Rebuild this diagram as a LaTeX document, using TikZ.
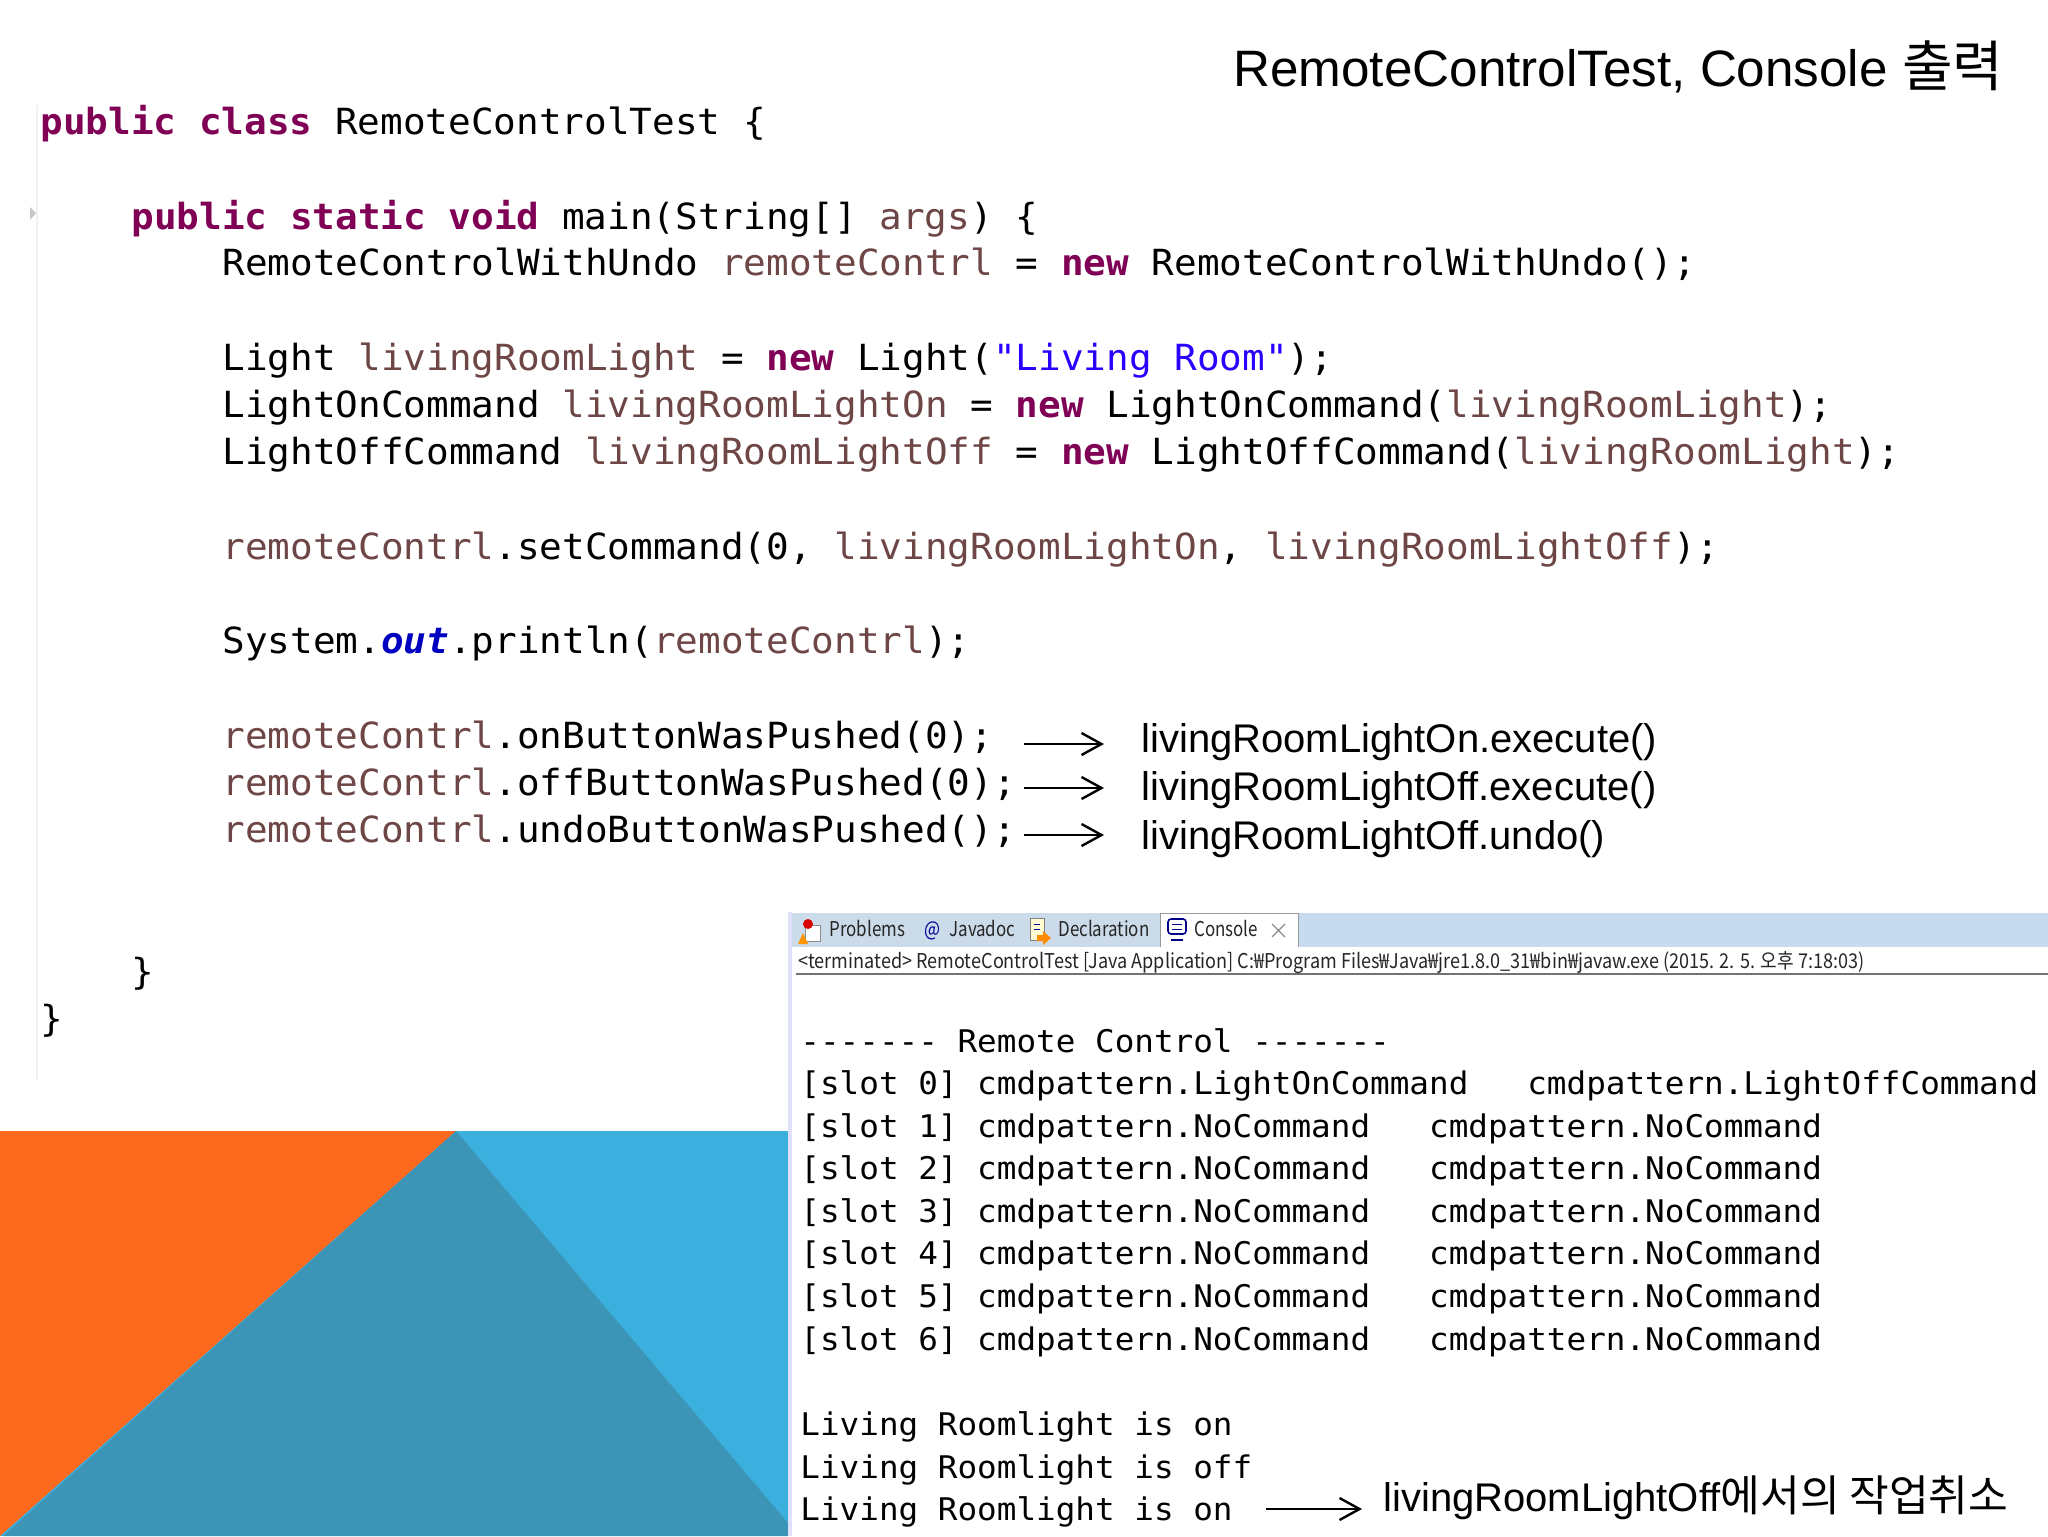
\documentclass[tikz,border=0pt]{standalone}
\usepackage{fontspec}
\setmainfont{Liberation Sans}
\setmonofont[FakeStretch=1.046]{DejaVu Sans Mono}
\newfontfamily\krfont{Noto Sans CJK KR}
\newfontfamily\tabfont{Noto Sans CJK KR}[FakeStretch=0.83]
\newfontfamily\infofont{Noto Sans CJK KR}[FakeStretch=0.885]
\usetikzlibrary{arrows.meta}
\definecolor{kwcol}{HTML}{7F0055}
\definecolor{varcol}{HTML}{6E4646}
\definecolor{strcol}{HTML}{2A00FF}
\definecolor{outcol}{HTML}{0000C0}
\definecolor{orangebg}{HTML}{FD6A1D}
\definecolor{bluebg}{HTML}{3BB0DE}
\definecolor{tealbg}{HTML}{3C94B6}
\definecolor{tabbar}{HTML}{C7DBEF}
\definecolor{tabidle}{HTML}{CBDBE9}
\newcommand{\kw}[1]{\textcolor{kwcol}{\bfseries #1}}
\newcommand{\vr}[1]{\textcolor{varcol}{#1}}
\tikzset{
  x=0.5pt,y=-0.5pt,
  code/.style={anchor=base west,inner sep=0pt,font=\ttfamily\fontsize{18}{18}\selectfont},
  cons/.style={anchor=base west,inner sep=0pt,font=\ttfamily\fontsize{15.6}{15.6}\selectfont},
  label/.style={anchor=base west,inner sep=0pt,font=\fontsize{20}{20}\selectfont},
  tabtext/.style={anchor=base west,inner sep=0pt,text=black!85,font=\tabfont\fontsize{10.2}{10.2}\selectfont},
  infotext/.style={anchor=base west,inner sep=0pt,text=black!85,font=\infofont\fontsize{10.2}{10.2}\selectfont},
  conn/.style={draw=black,line width=1.2pt,-{Straight Barb[length=10pt,width=11pt,line width=1.2pt]}},
}
\begin{document}
\begin{tikzpicture}
\path[use as bounding box,fill=white] (0,0) rectangle (2048,1536);
% gutter
\draw[black!5,line width=0.6pt] (37,105) -- (37,1080);
\fill[black!22] (30,207) -- (36,213) -- (30,220) -- cycle;
% background triangles
\fill[bluebg] (0,1131) rectangle (788,1536);
\fill[orangebg] (0,1131) -- (456,1131) -- (0,1536) -- cycle;
\fill[tealbg] (456,1131) -- (788,1523) -- (788,1536) -- (3,1536) -- cycle;
% title
\node[anchor=base west,inner sep=0pt,font=\fontsize{25.6}{25.6}\selectfont] (title) at (1233,87) {RemoteControlTest, Console {\krfont\fontsize{27.5}{27.5}\selectfont 출력}};
% code
\node[code] (c1) at (40,134) {\kw{public class} RemoteControlTest \{};
\node[code] (c2) at (131,229) {\kw{public static void} main(String[] \vr{args}) \{};
\node[code] (c3) at (222,275) {RemoteControlWithUndo \vr{remoteContrl} = \kw{new} RemoteControlWithUndo();};
\node[code] (c4) at (222,370) {Light \vr{livingRoomLight} = \kw{new} Light(\textcolor{strcol}{"Living Room"});};
\node[code] (c5) at (222,417) {LightOnCommand \vr{livingRoomLightOn} = \kw{new} LightOnCommand(\vr{livingRoomLight});};
\node[code] (c6) at (222,464) {LightOffCommand \vr{livingRoomLightOff} = \kw{new} LightOffCommand(\vr{livingRoomLight});};
\node[code] (c7) at (222,559) {\vr{remoteContrl}.setCommand(0, \vr{livingRoomLightOn}, \vr{livingRoomLightOff});};
\node[code] (c8) at (222,653) {System.\textcolor{outcol}{\bfseries\itshape out}.println(\vr{remoteContrl});};
\node[code] (c9) at (222,748) {\vr{remoteContrl}.onButtonWasPushed(0);};
\node[code] (c10) at (222,795) {\vr{remoteContrl}.offButtonWasPushed(0);};
\node[code] (c11) at (222,842) {\vr{remoteContrl}.undoButtonWasPushed();};
\node[code] (c12) at (131,984) {\}};
\node[code] (c13) at (40,1031) {\}};
% arrow labels
\node[label] (l1) at (1141,752) {livingRoomLightOn.execute()};
\node[label] (l2) at (1141,800) {livingRoomLightOff.execute()};
\node[label] (l3) at (1141,849) {livingRoomLightOff.undo()};
\coordinate (a1s) at (1024,744); \coordinate (a1e) at (1104,744);
\coordinate (a2s) at (1024,788); \coordinate (a2e) at (1104,788);
\coordinate (a3s) at (1024,835); \coordinate (a3e) at (1104,835);
\draw[conn] (a1s) -- (a1e);
\draw[conn] (a2s) -- (a2e);
\draw[conn] (a3s) -- (a3e);
% console panel
\fill[white] (788,912) rectangle (2048,1536);
\fill[black!15!blue!12] (788,912) rectangle (792,1536);
\fill[tabbar] (792,913) rectangle (2048,947);
\fill[tabidle] (792,913) rectangle (1160,947);
\fill[white] (1160,911) rectangle (1298,947);
\draw[black!40,line width=0.5pt] (1160,947) -- (1160,913) -- (1298,913) -- (1298,947);
\draw[black!55,line width=0.7pt] (796,974) -- (2048,974);
% tab icons: Problems
\draw[black!45,line width=0.5pt,fill=white] (805,925) rectangle (820,941);
\fill[red!85!black] (808,924) circle (5);
\fill[orange!85!yellow] (798,944) -- (803,933) -- (808,944) -- cycle;
% Declaration
\draw[black!50,line width=0.5pt,fill=yellow!18] (1030,918) rectangle (1044,940);
\draw[blue!60!black,line width=0.5pt] (1034,924) -- (1040,924) (1034,929) -- (1040,929);
\fill[orange!90!yellow] (1037,935) -- (1043,935) -- (1043,931) -- (1051,938) -- (1043,945) -- (1043,941) -- (1037,941) -- cycle;
% Console
\draw[blue!55!black,line width=0.8pt,fill=white,rounded corners=1.5pt] (1168,919) rectangle (1186,934);
\draw[blue!55!black,line width=0.5pt] (1172,924) -- (1182,924) (1172,929) -- (1182,929);
\draw[blue!55!black,line width=1pt] (1171,940) -- (1183,940);
% close cross
\draw[black!45,line width=0.6pt] (1272,924) -- (1285,937) (1285,924) -- (1272,937);
% tab labels
\node[tabtext] (t1) at (829,936) {Problems};
\node[tabtext,text=blue!60!black] (tat) at (924,936) {@};
\node[tabtext] (t2) at (949,936) {Javadoc};
\node[tabtext] (t3) at (1058,936) {Declaration};
\node[tabtext] (t4) at (1194,936) {Console};
\node[infotext] (info) at (798,968) {<terminated> RemoteControlTest [Java Application] C:₩Program Files₩Java₩jre1.8.0\_31₩bin₩javaw.exe (2015. 2. 5. 오후 7:18:03)};
% console text
\node[cons] (k0) at (800,1052) {------- Remote Control -------};
\node[cons] (k1) at (800,1094) {[slot 0] cmdpattern.LightOnCommand\ \ \ cmdpattern.LightOffCommand};
\node[cons] (k2) at (800,1137) {[slot 1] cmdpattern.NoCommand\ \ \ cmdpattern.NoCommand};
\node[cons] (k3) at (800,1179) {[slot 2] cmdpattern.NoCommand\ \ \ cmdpattern.NoCommand};
\node[cons] (k4) at (800,1222) {[slot 3] cmdpattern.NoCommand\ \ \ cmdpattern.NoCommand};
\node[cons] (k5) at (800,1264) {[slot 4] cmdpattern.NoCommand\ \ \ cmdpattern.NoCommand};
\node[cons] (k6) at (800,1307) {[slot 5] cmdpattern.NoCommand\ \ \ cmdpattern.NoCommand};
\node[cons] (k7) at (800,1350) {[slot 6] cmdpattern.NoCommand\ \ \ cmdpattern.NoCommand};
\node[cons] (k8) at (800,1435) {Living Roomlight is on};
\node[cons] (k9) at (800,1478) {Living Roomlight is off};
\node[cons] (k10) at (800,1520) {Living Roomlight is on};
\node[label] (l4) at (1383,1511) {livingRoomLightOff{\krfont\fontsize{21.6}{21.6}\selectfont 에서의 작업취소}};
\coordinate (a4s) at (1266,1509); \coordinate (a4e) at (1362,1509);
\draw[conn] (a4s) -- (a4e);
\end{tikzpicture}
\end{document}
